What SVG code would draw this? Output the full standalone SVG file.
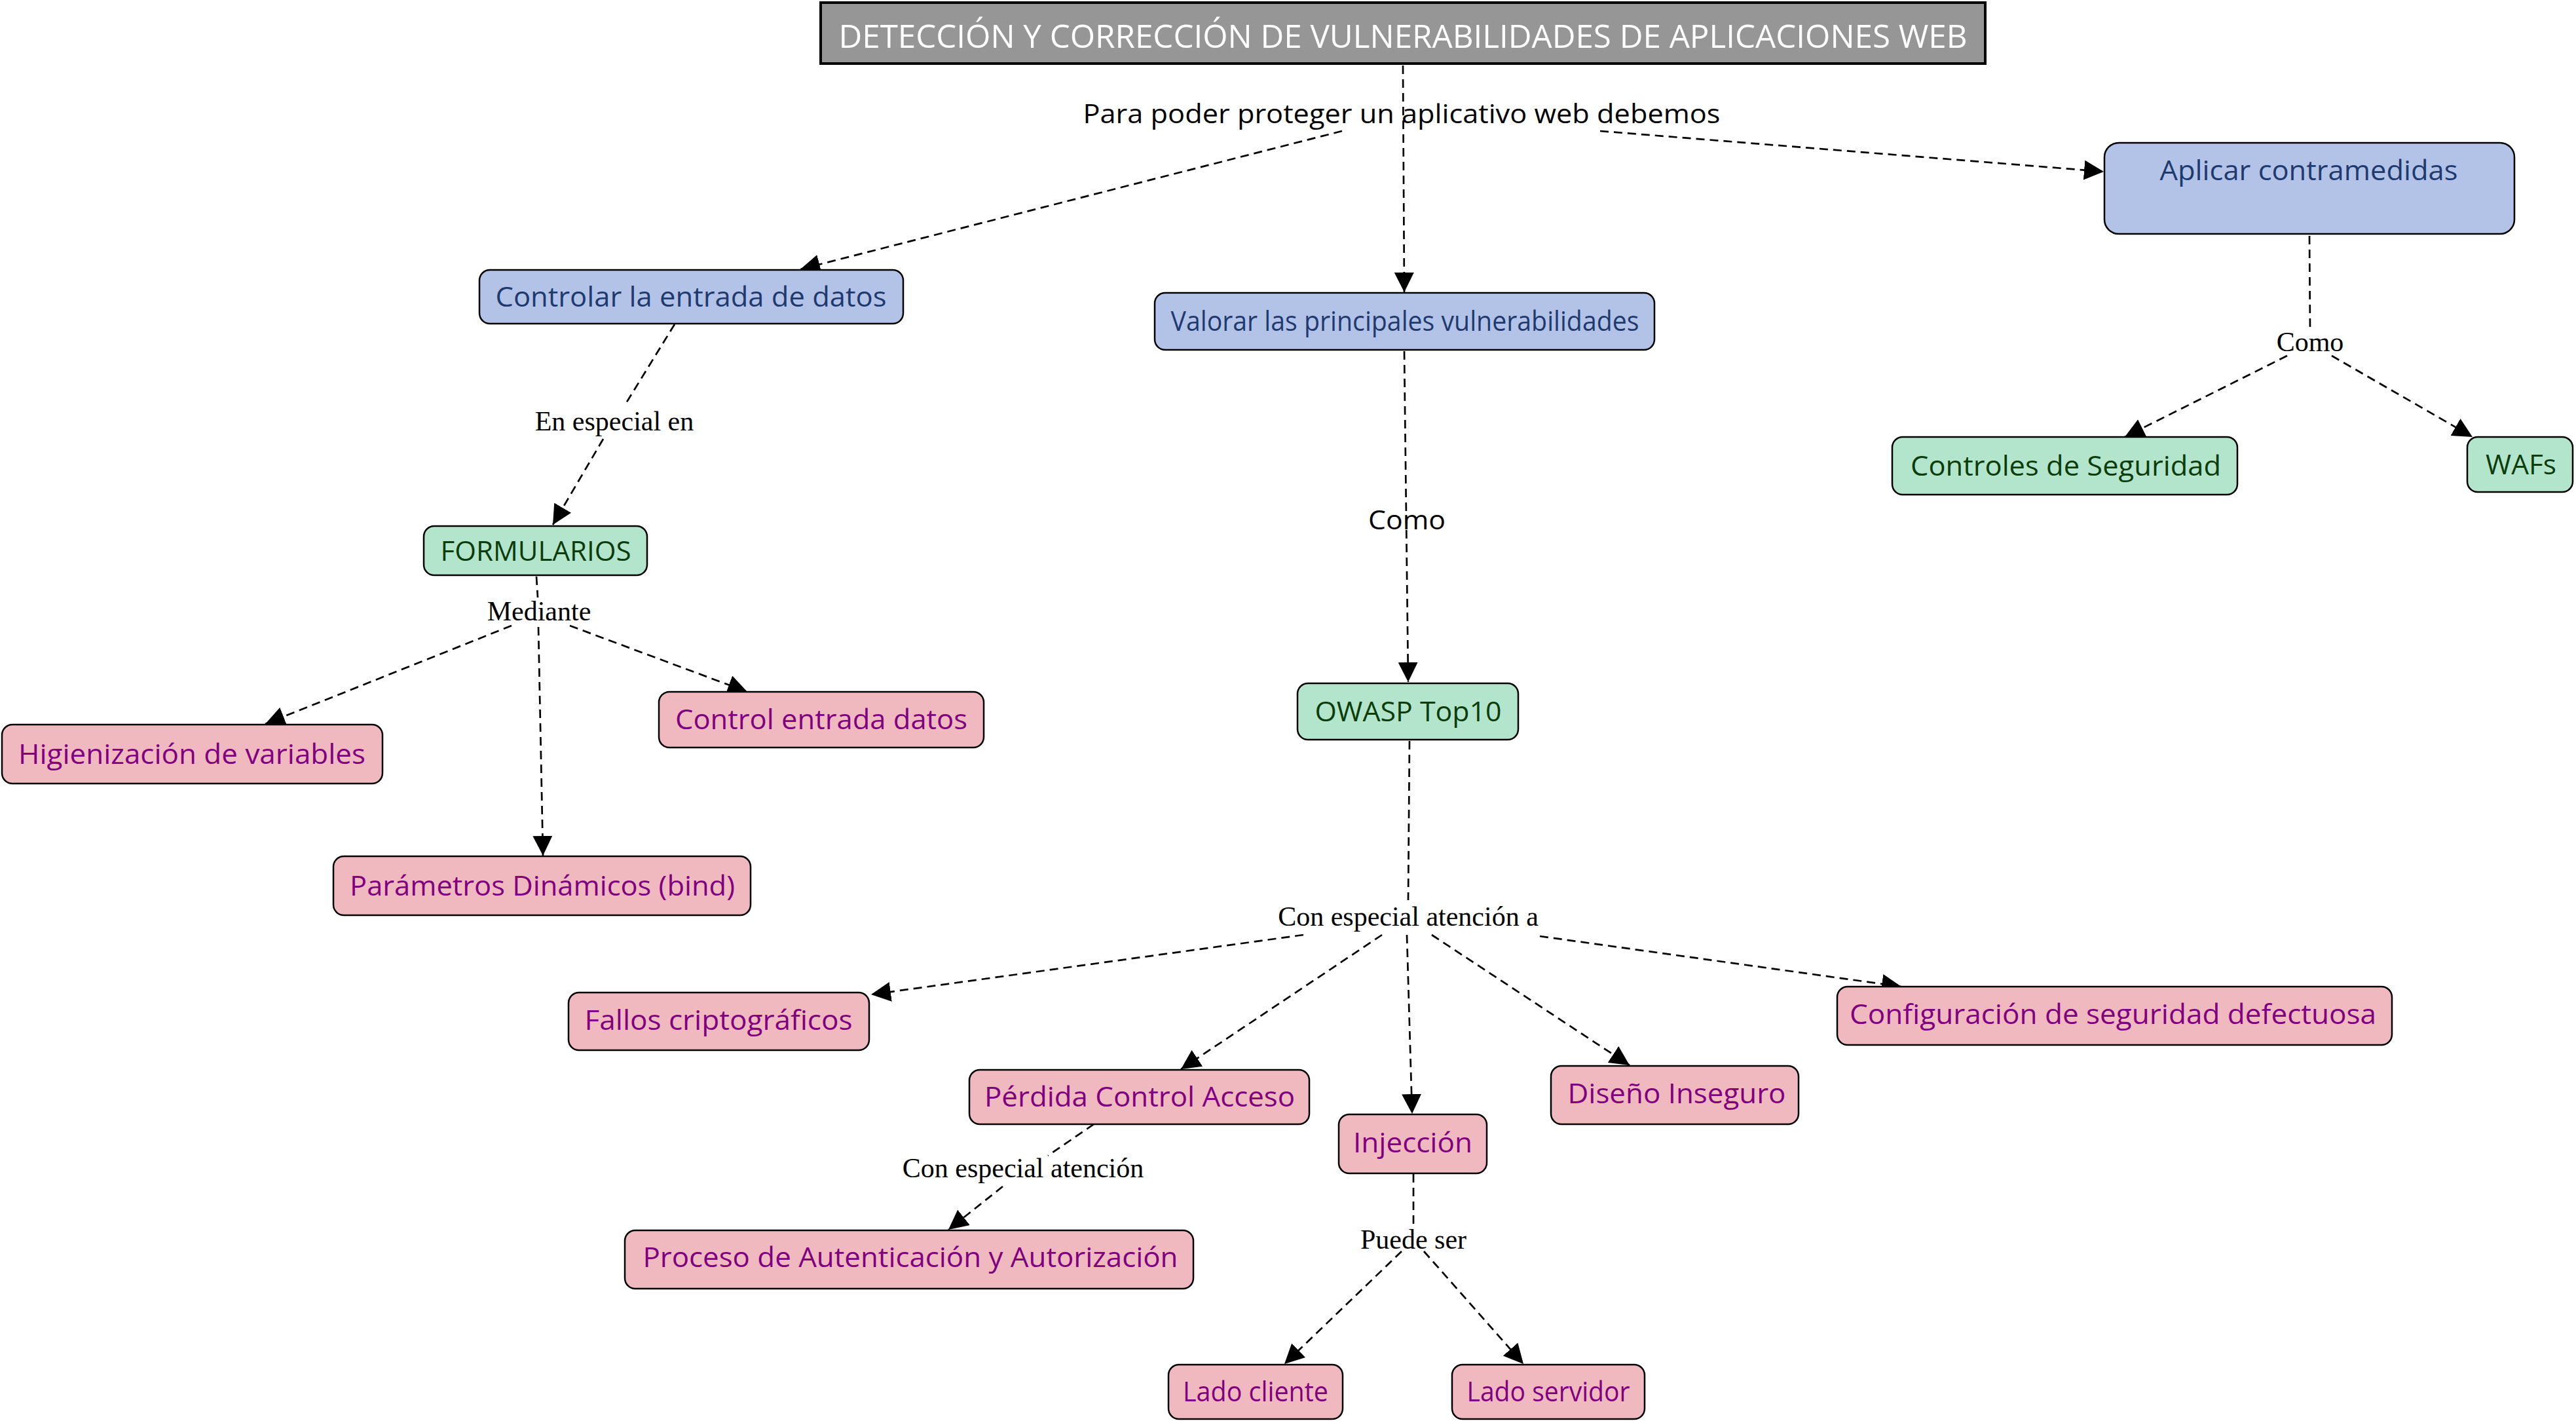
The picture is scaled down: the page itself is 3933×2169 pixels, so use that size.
<svg xmlns="http://www.w3.org/2000/svg" width="3933" height="2169" viewBox="0 0 3933 2169">
  <defs>
    <style>
      .node rect { stroke: #000; stroke-width: 2.5; }
      .title rect { fill: #969696; stroke: #000; stroke-width: 4; }
      .blue rect { fill: #b3c3e7; }
      .green rect { fill: #b3e5cd; }
      .pink rect { fill: #f0b9c0; }
      .node text { font-family: "Open Sans", "DejaVu Sans", sans-serif; font-size: 42px; text-anchor: middle; }
      .title text { fill: #ffffff; font-size: 50px; }
      .blue text { fill: #1f3a6f; }
      .green text { fill: #0b3d0b; }
      .pink text { fill: #800080; }
      .links line { stroke: #000; stroke-width: 2.7; stroke-dasharray: 13 8; fill: none; }
      .links line.arrow { marker-end: url(#head); }
      .lbl-sans { font-family: "Open Sans", "DejaVu Sans", sans-serif; font-size: 41px; fill: #000; text-anchor: middle; }
      .lbl-serif { font-family: "Liberation Serif", "Times New Roman", serif; font-size: 42px; fill: #000; text-anchor: middle; }
    </style>
    <marker id="head" viewBox="0 0 30 30" markerUnits="userSpaceOnUse" markerWidth="30" markerHeight="30" refX="30" refY="15" orient="auto">
      <path d="M0,0 L30,15 L0,30 z" fill="#000"/>
    </marker>
  </defs>

  <rect x="0" y="0" width="3933" height="2169" fill="#ffffff"/>

  <!-- connectors -->
  <g id="connectors" class="links">
    <line class="arrow" x1="2142" y1="100" x2="2144" y2="446"/>
    <line class="arrow" x1="2049" y1="200" x2="1222" y2="411"/>
    <line class="arrow" x1="2443" y1="200" x2="3212" y2="262"/>
    <line x1="3526" y1="360" x2="3527" y2="502"/>
    <line class="arrow" x1="3492" y1="543" x2="3244" y2="667"/>
    <line class="arrow" x1="3560" y1="543" x2="3775" y2="667"/>
    <line x1="1030" y1="495" x2="953" y2="620"/>
    <line class="arrow" x1="921" y1="670" x2="844" y2="801"/>
    <line x1="819" y1="880" x2="821" y2="912"/>
    <line class="arrow" x1="781" y1="955" x2="405" y2="1105"/>
    <line class="arrow" x1="870" y1="955" x2="1141" y2="1056"/>
    <line class="arrow" x1="822" y1="957" x2="829" y2="1306"/>
    <line class="arrow" x1="2144" y1="536" x2="2150" y2="1041"/>
    <line x1="2152" y1="1131" x2="2150" y2="1374"/>
    <line class="arrow" x1="1990" y1="1427" x2="1330" y2="1518"/>
    <line class="arrow" x1="2110" y1="1427" x2="1803" y2="1632"/>
    <line class="arrow" x1="2148" y1="1427" x2="2156" y2="1700"/>
    <line class="arrow" x1="2186" y1="1427" x2="2488" y2="1626"/>
    <line class="arrow" x1="2351" y1="1429" x2="2903" y2="1506"/>
    <line x1="1670" y1="1716" x2="1600" y2="1764"/>
    <line class="arrow" x1="1531" y1="1811" x2="1448" y2="1877"/>
    <line x1="2158" y1="1792" x2="2158" y2="1874"/>
    <line class="arrow" x1="2140" y1="1910" x2="1961" y2="2082"/>
    <line class="arrow" x1="2174" y1="1910" x2="2326" y2="2082"/>
  </g>

  <!-- connector labels -->
  <g id="labels">
    <text class="lbl-sans" x="2140" y="188" textLength="973" lengthAdjust="spacingAndGlyphs">Para poder proteger un aplicativo web debemos</text>
    <text class="lbl-sans" x="2148" y="808" textLength="118" lengthAdjust="spacingAndGlyphs">Como</text>
    <text class="lbl-serif" x="3527" y="536">Como</text>
    <text class="lbl-serif" x="938" y="657">En especial en</text>
    <text class="lbl-serif" x="823" y="947">Mediante</text>
    <text class="lbl-serif" x="2150" y="1413">Con especial atención a</text>
    <text class="lbl-serif" x="1562" y="1797">Con especial atención</text>
    <text class="lbl-serif" x="2158" y="1906">Puede ser</text>
  </g>

  <!-- nodes -->
  <g id="n-title" class="node title">
    <rect x="1253" y="4" width="1778" height="93"/>
    <text x="2142" y="73" textLength="1723" lengthAdjust="spacingAndGlyphs">DETECCIÓN Y CORRECCIÓN DE VULNERABILIDADES DE APLICACIONES WEB</text>
  </g>
  <g id="n-controlar" class="node blue">
    <rect x="732" y="412" width="647" height="82" rx="16"/>
    <text x="1055" y="468" textLength="597" lengthAdjust="spacingAndGlyphs">Controlar la entrada de datos</text>
  </g>
  <g id="n-valorar" class="node blue">
    <rect x="1763" y="447" width="763" height="87" rx="16"/>
    <text x="2145" y="505" textLength="715" lengthAdjust="spacingAndGlyphs">Valorar las principales vulnerabilidades</text>
  </g>
  <g id="n-aplicar" class="node blue">
    <rect x="3213" y="218" width="626" height="139" rx="22"/>
    <text x="3525" y="275" textLength="455" lengthAdjust="spacingAndGlyphs">Aplicar contramedidas</text>
  </g>
  <g id="n-controles" class="node green">
    <rect x="2889" y="667" width="527" height="88" rx="16"/>
    <text x="3154" y="726" textLength="474" lengthAdjust="spacingAndGlyphs">Controles de Seguridad</text>
  </g>
  <g id="n-wafs" class="node green">
    <rect x="3767" y="667" width="161" height="84" rx="16"/>
    <text x="3849" y="724" textLength="108" lengthAdjust="spacingAndGlyphs">WAFs</text>
  </g>
  <g id="n-formularios" class="node green">
    <rect x="647" y="803" width="341" height="75" rx="16"/>
    <text x="818" y="856" textLength="291" lengthAdjust="spacingAndGlyphs">FORMULARIOS</text>
  </g>
  <g id="n-higienizacion" class="node pink">
    <rect x="3" y="1106" width="581" height="90" rx="16"/>
    <text x="293" y="1166" textLength="530" lengthAdjust="spacingAndGlyphs">Higienización de variables</text>
  </g>
  <g id="n-control-entrada" class="node pink">
    <rect x="1006" y="1056" width="496" height="85" rx="16"/>
    <text x="1254" y="1113" textLength="446" lengthAdjust="spacingAndGlyphs">Control entrada datos</text>
  </g>
  <g id="n-parametros" class="node pink">
    <rect x="509" y="1307" width="637" height="90" rx="16"/>
    <text x="828" y="1367" textLength="588" lengthAdjust="spacingAndGlyphs">Parámetros Dinámicos (bind)</text>
  </g>
  <g id="n-owasp" class="node green">
    <rect x="1981" y="1043" width="337" height="86" rx="16"/>
    <text x="2150" y="1101" textLength="285" lengthAdjust="spacingAndGlyphs">OWASP Top10</text>
  </g>
  <g id="n-fallos" class="node pink">
    <rect x="868" y="1515" width="459" height="88" rx="16"/>
    <text x="1097" y="1572" textLength="409" lengthAdjust="spacingAndGlyphs">Fallos criptográficos</text>
  </g>
  <g id="n-perdida" class="node pink">
    <rect x="1480" y="1633" width="519" height="83" rx="16"/>
    <text x="1740" y="1689" textLength="474" lengthAdjust="spacingAndGlyphs">Pérdida Control Acceso</text>
  </g>
  <g id="n-injeccion" class="node pink">
    <rect x="2044" y="1701" width="226" height="90" rx="16"/>
    <text x="2157" y="1759" textLength="182" lengthAdjust="spacingAndGlyphs">Injección</text>
  </g>
  <g id="n-diseno" class="node pink">
    <rect x="2368" y="1627" width="378" height="89" rx="16"/>
    <text x="2560" y="1684" textLength="333" lengthAdjust="spacingAndGlyphs">Diseño Inseguro</text>
  </g>
  <g id="n-configuracion" class="node pink">
    <rect x="2805" y="1506" width="847" height="89" rx="16"/>
    <text x="3226" y="1563" textLength="804" lengthAdjust="spacingAndGlyphs">Configuración de seguridad defectuosa</text>
  </g>
  <g id="n-proceso" class="node pink">
    <rect x="954" y="1878" width="868" height="89" rx="16"/>
    <text x="1390" y="1934" textLength="817" lengthAdjust="spacingAndGlyphs">Proceso de Autenticación y Autorización</text>
  </g>
  <g id="n-lado-cliente" class="node pink">
    <rect x="1784" y="2083" width="266" height="83" rx="16"/>
    <text x="1917" y="2139" textLength="222" lengthAdjust="spacingAndGlyphs">Lado cliente</text>
  </g>
  <g id="n-lado-servidor" class="node pink">
    <rect x="2217" y="2083" width="294" height="83" rx="16"/>
    <text x="2364" y="2139" textLength="249" lengthAdjust="spacingAndGlyphs">Lado servidor</text>
  </g>
</svg>
